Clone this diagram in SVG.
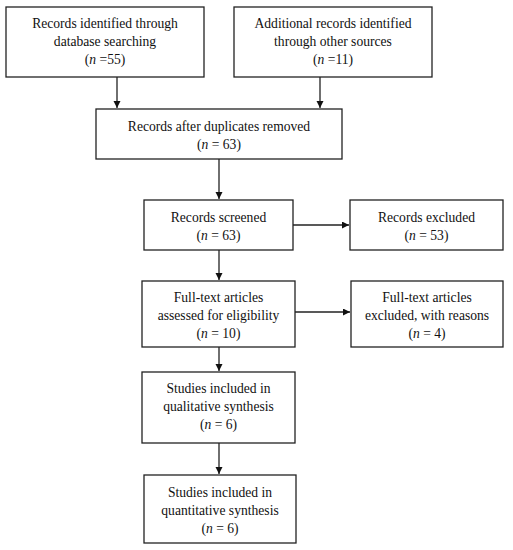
<svg xmlns="http://www.w3.org/2000/svg" width="513" height="550" viewBox="0 0 513 550">
<defs>
<marker id="ah" markerWidth="8" markerHeight="8" refX="7" refY="3.5" orient="auto" markerUnits="userSpaceOnUse">
<path d="M0,0 L7,3.5 L0,7 Z" fill="#111"/>
</marker>
<style>
.box{fill:#fff;stroke:#222;stroke-width:1.3}
.t{font-family:"Liberation Serif","Times New Roman",serif;font-size:13.6px;fill:#111;text-anchor:middle}
.c{stroke:#222;stroke-width:1.3;fill:none;marker-end:url(#ah)}
</style>
</defs>
<rect width="513" height="550" fill="#fff"/>
<g id="connectors">
<line class="c" x1="117" y1="77" x2="117" y2="108"/>
<line class="c" x1="320" y1="77" x2="320" y2="108"/>
<line class="c" x1="219" y1="159" x2="219" y2="199"/>
<line class="c" x1="293" y1="225" x2="349" y2="225"/>
<line class="c" x1="219" y1="250" x2="219" y2="280"/>
<line class="c" x1="295" y1="312" x2="350" y2="312"/>
<line class="c" x1="219" y1="347" x2="219" y2="371"/>
<line class="c" x1="219" y1="443" x2="219" y2="474"/>
</g>
<g id="n1">
<rect class="box" x="6" y="7" width="198" height="70"/>
<text class="t" x="105" y="28">Records identified through</text>
<text class="t" x="105" y="46">database searching</text>
<text class="t" x="105" y="64">(<tspan font-style="italic">n</tspan> =55)</text>
</g>
<g id="n2">
<rect class="box" x="234" y="7" width="198" height="70"/>
<text class="t" x="333" y="28">Additional records identified</text>
<text class="t" x="333" y="46">through other sources</text>
<text class="t" x="333" y="64">(<tspan font-style="italic">n</tspan> =11)</text>
</g>
<g id="n3">
<rect class="box" x="96" y="109" width="246" height="50"/>
<text class="t" x="219" y="131">Records after duplicates removed</text>
<text class="t" x="219" y="149">(<tspan font-style="italic">n</tspan> = 63)</text>
</g>
<g id="n4">
<rect class="box" x="144" y="200" width="149" height="50"/>
<text class="t" x="218.5" y="222">Records screened</text>
<text class="t" x="218.5" y="240">(<tspan font-style="italic">n</tspan> = 63)</text>
</g>
<g id="n5">
<rect class="box" x="350" y="200" width="153" height="50"/>
<text class="t" x="426.5" y="222">Records excluded</text>
<text class="t" x="426.5" y="240">(<tspan font-style="italic">n</tspan> = 53)</text>
</g>
<g id="n6">
<rect class="box" x="142" y="281" width="153" height="66"/>
<text class="t" x="218.5" y="302">Full-text articles</text>
<text class="t" x="218.5" y="320">assessed for eligibility</text>
<text class="t" x="218.5" y="338">(<tspan font-style="italic">n</tspan> = 10)</text>
</g>
<g id="n7">
<rect class="box" x="351" y="281" width="152" height="66"/>
<text class="t" x="427" y="302">Full-text articles</text>
<text class="t" x="427" y="320">excluded, with reasons</text>
<text class="t" x="427" y="338">(<tspan font-style="italic">n</tspan> = 4)</text>
</g>
<g id="n8">
<rect class="box" x="142" y="372" width="153" height="71"/>
<text class="t" x="218.5" y="393">Studies included in</text>
<text class="t" x="218.5" y="411">qualitative synthesis</text>
<text class="t" x="218.5" y="429">(<tspan font-style="italic">n</tspan> = 6)</text>
</g>
<g id="n9">
<rect class="box" x="144" y="475" width="152" height="68"/>
<text class="t" x="220" y="497">Studies included in</text>
<text class="t" x="220" y="515">quantitative synthesis</text>
<text class="t" x="220" y="533">(<tspan font-style="italic">n</tspan> = 6)</text>
</g>
</svg>
